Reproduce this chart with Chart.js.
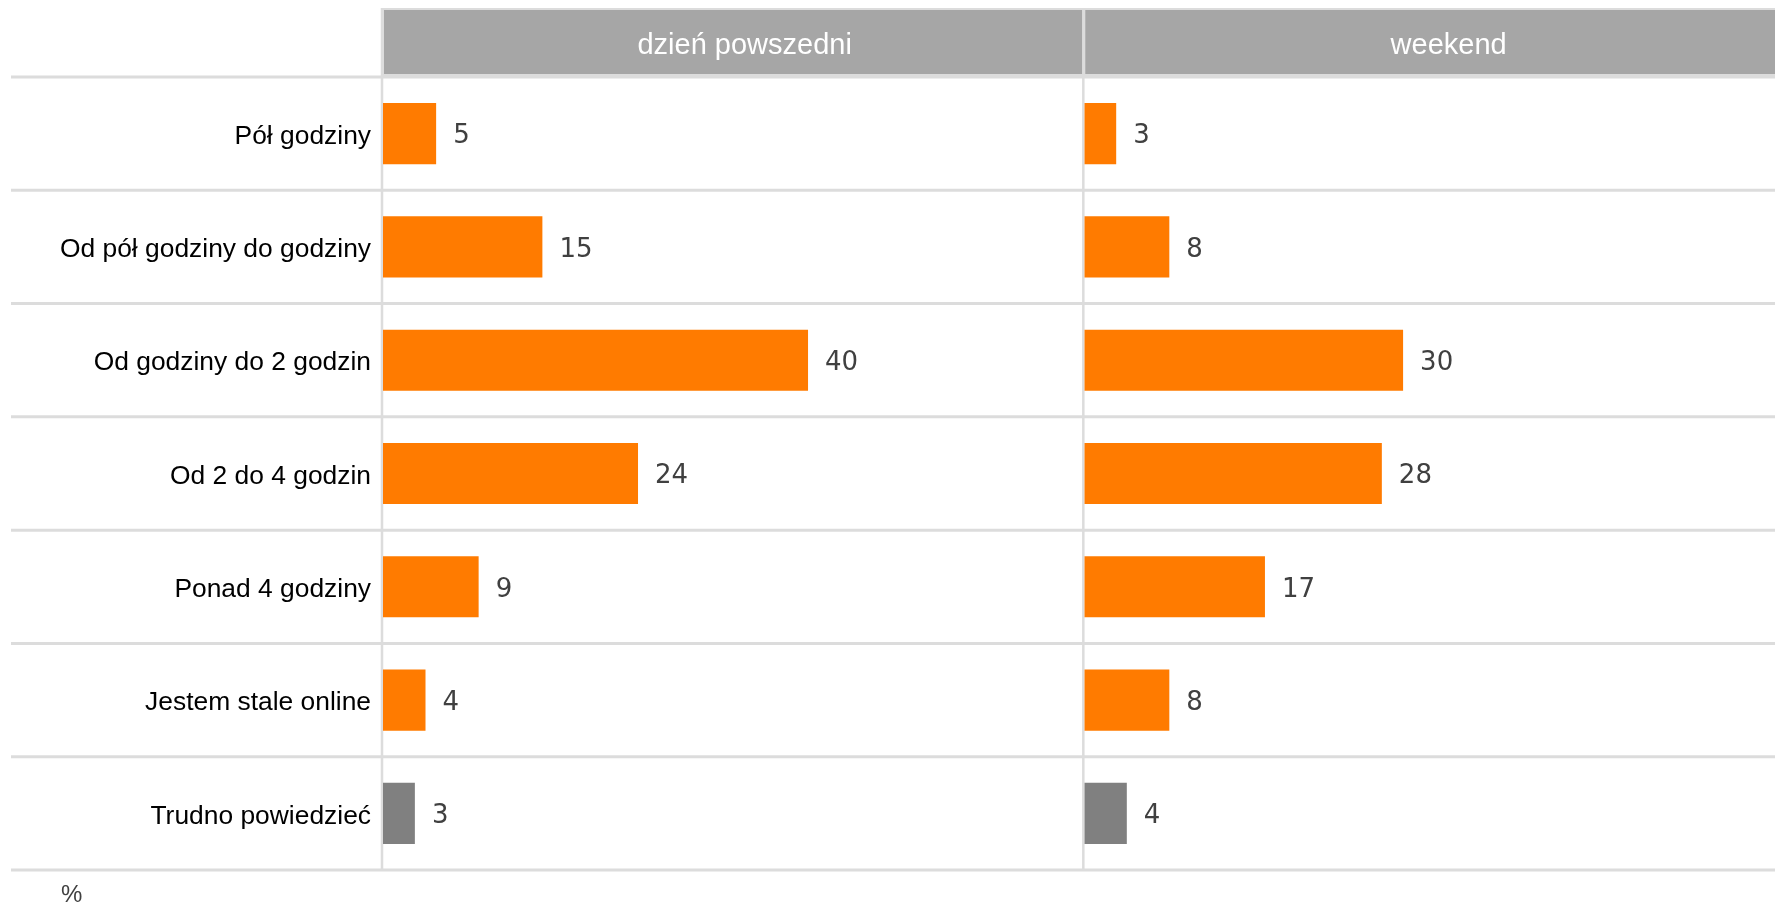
<!DOCTYPE html>
<html>
<head>
<meta charset="utf-8">
<script src="https://cdn.jsdelivr.net/npm/chart.js@4.4.0/dist/chart.umd.min.js"></script>
<style>
  html, body { margin: 0; padding: 0; background: #fff; }
</style>
</head>
<body>
<canvas id="chart" width="1775" height="902"></canvas>
<script>
// data
const categories = [
  'Pół godziny',
  'Od pół godziny do godziny',
  'Od godziny do 2 godzin',
  'Od 2 do 4 godzin',
  'Ponad 4 godziny',
  'Jestem stale online',
  'Trudno powiedzieć'
];
const panelTitles = ['dzień powszedni', 'weekend'];
const weekdayValues = [5, 15, 40, 24, 9, 4, 3];
const weekendValues = [3, 8, 30, 28, 17, 8, 4];
const panelMax = [66, 65];
const unitLabel = '%';

const ORANGE = '#ff7b00';
const GREY = '#808080';
const LINE = '#dcdcdc';
const barColors = categories.map((c, i) => i == categories.length - 1 ? GREY : ORANGE);

// header boxes, row lines and panel lines
const framePlugin = {
  id: 'frame',
  beforeDatasetsDraw(chart) {
    const ctx = chart.ctx;
    const area = chart.chartArea;
    const y = chart.scales.y;
    const panels = [chart.scales.x1, chart.scales.x2];
    ctx.save();

    // header
    ctx.fillStyle = LINE;
    ctx.fillRect(panels[0].left - 1, 8, area.right - panels[0].left + 1, area.top - 8);
    ctx.fillStyle = '#a6a6a6';
    panels.forEach((p, i) => {
      ctx.fillRect(p.left + 1, 10, p.right - p.left - (i == 0 ? 2 : 0), area.top - 13);
    });
    ctx.fillStyle = '#ffffff';
    ctx.font = '29px "Liberation Sans", Arial, sans-serif';
    ctx.textAlign = 'center';
    ctx.textBaseline = 'alphabetic';
    const shift = [11, 19];
    panels.forEach((p, i) => {
      ctx.fillText(panelTitles[i], (p.left + p.right) / 2 + shift[i], 54);
    });

    // row lines
    const pitch = y.getPixelForValue(1) - y.getPixelForValue(0);
    ctx.strokeStyle = LINE;
    ctx.lineWidth = 3;
    for (let i = 0; i <= categories.length; i++) {
      const yy = y.getPixelForValue(i) - pitch / 2;
      ctx.beginPath();
      ctx.moveTo(11, yy);
      ctx.lineTo(area.right, yy);
      ctx.stroke();
    }

    // panel lines
    ctx.lineWidth = 2.5;
    panels.forEach(p => {
      ctx.beginPath();
      ctx.moveTo(p.left - 1, 8);
      ctx.lineTo(p.left - 1, area.bottom);
      ctx.stroke();
    });
    ctx.restore();
  },
  afterDatasetsDraw(chart) {
    const ctx = chart.ctx;
    ctx.save();
    ctx.fillStyle = '#404040';
    ctx.font = '26px "DejaVu Sans", Verdana, sans-serif';
    ctx.textAlign = 'left';
    ctx.textBaseline = 'middle';
    chart.data.datasets.forEach((ds, di) => {
      const meta = chart.getDatasetMeta(di);
      meta.data.forEach((bar, i) => {
        ctx.fillText(String(ds.data[i]), bar.x + 17, bar.y + 3);
      });
    });
    ctx.font = '24px "Liberation Sans", Arial, sans-serif';
    ctx.textBaseline = 'alphabetic';
    ctx.fillText(unitLabel, 61, 902);
    ctx.restore();
  }
};

const hiddenAxis = (max, weight) => ({
  type: 'linear',
  position: 'bottom',
  stack: 'panels',
  stackWeight: weight,
  min: 0,
  max: max,
  grid: { display: false, drawTicks: false },
  border: { display: false },
  ticks: { display: false }
});

const config = {
  type: 'bar',
  data: {
    labels: categories,
    datasets: [
      {
        label: panelTitles[0],
        data: weekdayValues,
        xAxisID: 'x1',
        backgroundColor: barColors,
        grouped: false,
        barPercentage: 0.54,
        categoryPercentage: 1
      },
      {
        label: panelTitles[1],
        data: weekendValues,
        xAxisID: 'x2',
        backgroundColor: barColors,
        grouped: false,
        barPercentage: 0.54,
        categoryPercentage: 1
      }
    ]
  },
  options: {
    indexAxis: 'y',
    responsive: false,
    animation: false,
    layout: { padding: { top: 77, bottom: 32, left: 0, right: 0 } },
    plugins: {
      legend: { display: false },
      tooltip: { enabled: false }
    },
    scales: {
      y: {
        afterFit: function (scale) { scale.width = 383; },
        grid: { display: false, drawTicks: false },
        border: { display: false },
        ticks: {
          padding: 12,
          labelOffset: 3,
          color: '#000000',
          font: { family: '"Liberation Sans", Arial, sans-serif', size: 26.4 }
        }
      },
      x1: hiddenAxis(panelMax[0], panelMax[0]),
      x2: hiddenAxis(panelMax[1], panelMax[1])
    }
  },
  plugins: [framePlugin]
};

const chart = new Chart(document.getElementById('chart'), config);
</script>
</body>
</html>
